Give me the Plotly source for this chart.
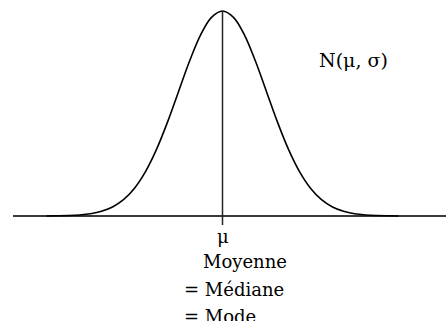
import plotly.graph_objects as go

# Standard normal curve, sampled in units of sigma (height relative to peak)
t_vals = [-4.0, -3.75, -3.5, -3.25, -3.0, -2.75, -2.5, -2.25, -2.0, -1.75, -1.5, -1.25,
          -1.0, -0.75, -0.5, -0.25, 0.0, 0.25, 0.5, 0.75, 1.0, 1.25, 1.5, 1.75,
          2.0, 2.25, 2.5, 2.75, 3.0, 3.25, 3.5, 3.75, 4.0]
density = [0.0003, 0.0009, 0.0022, 0.0051, 0.0111, 0.0228, 0.0439, 0.0796, 0.1353,
           0.2163, 0.3247, 0.4578, 0.6065, 0.7548, 0.8825, 0.9692, 1.0, 0.9692,
           0.8825, 0.7548, 0.6065, 0.4578, 0.3247, 0.2163, 0.1353, 0.0796, 0.0439,
           0.0228, 0.0111, 0.0051, 0.0022, 0.0009, 0.0003]

mean_label = "\u03bc"
title_label = "N(\u03bc, \u03c3)"
center_labels = ["Moyenne", "= Médiane", "= Mode"]

W, H = 446, 321
X0, SX = 222.5, 44.0      # pixel of the mean, pixels per sigma
Y0, SY = 216.0, 205.0     # pixel of the baseline, pixels per unit height

xr = [(0 - X0) / SX, (W - X0) / SX]
yr = [(Y0 - H) / SY, (Y0 - 0) / SY]

def px(x):
    return x / W

def py(y):
    return 1 - y / H

font = "DejaVu Serif"

fig = go.Figure()

# horizontal axis line
fig.add_trace(go.Scatter(x=[(13 - X0) / SX, xr[1]], y=[0, 0], mode="lines",
                         line=dict(color="#3a3a3a", width=2), hoverinfo="skip"))
# bell curve
fig.add_trace(go.Scatter(x=t_vals, y=density, mode="lines", line_shape="spline",
                         line=dict(color="black", width=1.6), hoverinfo="skip"))
# vertical line at the mean
fig.add_trace(go.Scatter(x=[0, 0], y=[max(density), (Y0 - 225) / SY], mode="lines",
                         line=dict(color="#222", width=1.5), hoverinfo="skip"))

ann = [
    dict(text=mean_label, x=px(223), y=py(236), xanchor="center", size=18),
    dict(text=center_labels[0], x=px(201), y=py(261), xanchor="left", size=18),
    dict(text=center_labels[1], x=px(182), y=py(289), xanchor="left", size=18),
    dict(text=center_labels[2], x=px(182), y=py(316), xanchor="left", size=18),
    dict(text=title_label, x=px(317), y=py(60), xanchor="left", size=19),
]
for a in ann:
    size = a.pop("size")
    fig.add_annotation(xref="paper", yref="paper", yanchor="middle", showarrow=False,
                       font=dict(family=font, size=size, color="black"), **a)

fig.update_layout(
    width=W, height=H, autosize=False,
    margin=dict(l=0, r=0, t=0, b=0),
    paper_bgcolor="white", plot_bgcolor="white",
    showlegend=False,
    font=dict(family=font),
    xaxis=dict(range=xr, visible=False, fixedrange=True),
    yaxis=dict(range=yr, visible=False, fixedrange=True),
)

fig.write_html("out.html")
